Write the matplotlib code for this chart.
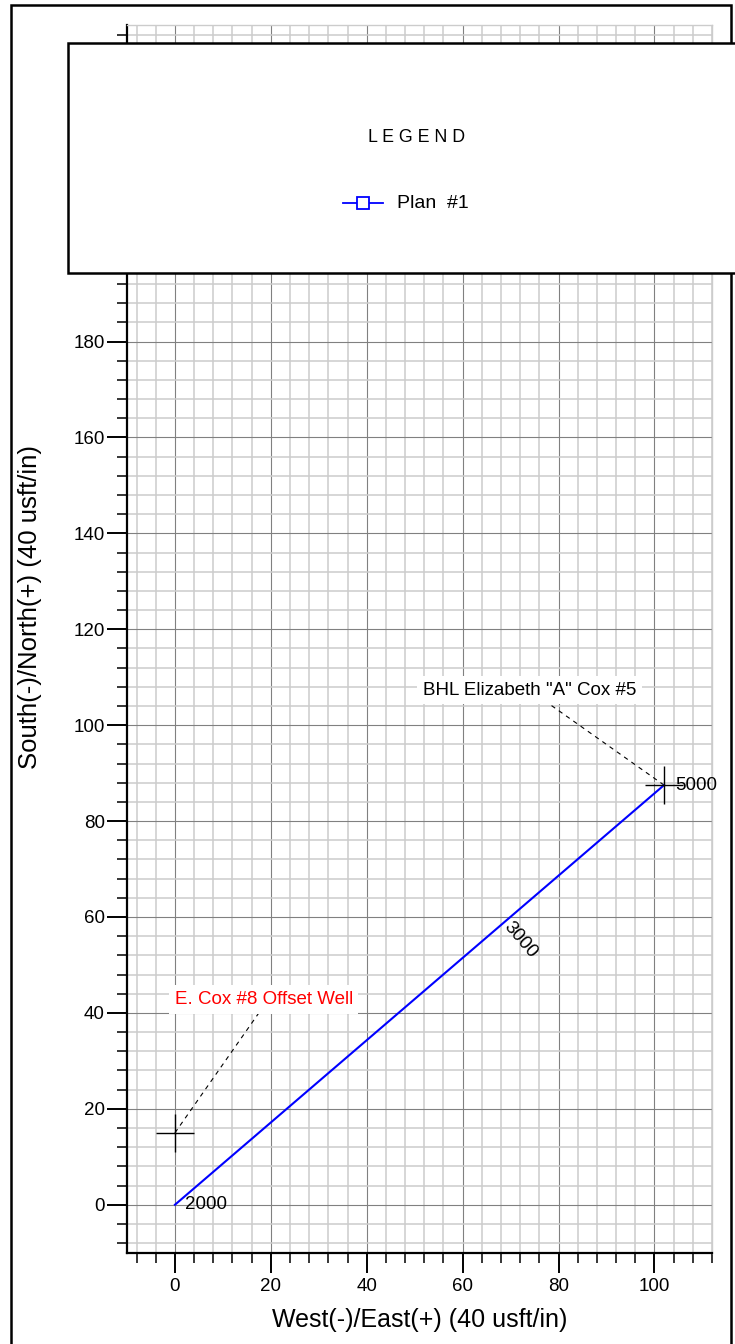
import matplotlib
matplotlib.use("Agg")
import matplotlib.pyplot as plt
from matplotlib.ticker import MultipleLocator
from matplotlib.patches import Rectangle
from matplotlib.lines import Line2D

plt.rcParams['font.family'] = ['Liberation Sans', 'DejaVu Sans']

# ---- data ----
plan_east = [0, 102]
plan_north = [0, 87.5]
md_labels = ["2000", "3000", "5000"]
md_east = [0, 70, 102]
md_north = [0, 60, 87.5]
target_names = ["E. Cox #8 Offset Well", 'BHL Elizabeth "A" Cox #5']
target_east = [0, 102]
target_north = [15, 87.5]
label_east = [17.5, 77.8]
label_north = [40, 104.6]
label_text_east = [18.5, 74]
label_text_north = [42.8, 107.3]
label_colors = ["red", "black"]
legend_name = "Plan  #1"

FS = 13.5

fig = plt.figure(figsize=(7.35, 13.44), dpi=100)
ax = fig.add_axes([127/735, 91.3/1344, 585/735, 1228.2/1344])
ax.set_xlim(-10, 112)
ax.set_ylim(-10, 246.1)

ax.xaxis.set_major_locator(MultipleLocator(20))
ax.yaxis.set_major_locator(MultipleLocator(20))
ax.xaxis.set_minor_locator(MultipleLocator(4))
ax.yaxis.set_minor_locator(MultipleLocator(4))
ax.grid(which='minor', color='#cccccc', lw=1.1)
ax.grid(which='major', color='#808080', lw=0.8)
ax.set_axisbelow(True)

for s in ['top', 'right']:
    ax.spines[s].set_color('#cccccc')
    ax.spines[s].set_linewidth(1.0)
for s in ['left', 'bottom']:
    ax.spines[s].set_linewidth(1.6)

ax.tick_params(which='major', length=14.4, width=1.4, labelsize=FS, direction='out')
ax.tick_params(which='minor', length=7.2, width=1.1, direction='out')
ax.tick_params(axis='x', which='major', pad=4)
ax.tick_params(axis='y', which='major', pad=1.5)
ax.tick_params(top=False, right=False, which='both')

ax.set_xlabel("West(-)/East(+) (40 usft/in)", fontsize=18)
ax.set_ylabel("South(-)/North(+) (40 usft/in)", fontsize=18.5)
ax.xaxis.set_label_coords(0.5, -(1320 - 1252.7) / 1228.2)
ax.yaxis.set_label_coords((30.5 - 127) / 585, (1252.7 - 607) / 1228.2)
ax.xaxis.label.set_va('center')
ax.yaxis.label.set_va('center')

# plan line
ax.plot(plan_east, plan_north, color='#0000ff', lw=1.5, zorder=5)

# MD labels
ax.annotate(md_labels[0], (md_east[0], md_north[0]), xytext=(7, 0),
            textcoords='offset points', fontsize=FS, va='center', ha='left', zorder=6)
ax.annotate(md_labels[1], (md_east[1], md_north[1]), xytext=(2, -1),
            textcoords='offset points', fontsize=FS, va='top', ha='left',
            rotation=-49.4, rotation_mode='anchor', zorder=6)
ax.annotate(md_labels[2], (md_east[2], md_north[2]), xytext=(8, 0),
            textcoords='offset points', fontsize=FS, va='center', ha='left', zorder=6)

# targets
for i in range(2):
    ax.plot([target_east[i], label_east[i]], [target_north[i], label_north[i]],
            color='black', lw=0.8, ls=(0, (4, 4)), zorder=4)
    ax.plot(target_east[i], target_north[i], marker='+', ms=27, mew=1.0,
            color='black', zorder=6)
    ax.text(label_text_east[i], label_text_north[i], target_names[i],
            color=label_colors[i], fontsize=FS, ha='center', va='center', zorder=7,
            bbox=dict(facecolor='white', edgecolor='none', pad=4))

# outer frame
fig.add_artist(Rectangle((10.5/735, -0.01), (731 - 10.5)/735, 1.01 - 5.3/1344,
                         transform=fig.transFigure, fill=False, ec='black',
                         lw=1.8, zorder=0.5, clip_on=False))

# legend box
fig.add_artist(Rectangle((68.3/735, 1 - 272.7/1344), 0.95, (272.7 - 43.5)/1344,
                         transform=fig.transFigure, fc='white', ec='black',
                         lw=1.8, zorder=10, clip_on=False))
fig.text(417/735, 1 - 138/1344, "L E G E N D", fontsize=12.8, ha='center',
         va='center', zorder=11)
fig.add_artist(Line2D([343/735, 383/735], [1 - 203/1344, 1 - 203/1344],
                      transform=fig.transFigure, color='#0000ff', lw=1.3, zorder=11))
fig.add_artist(Line2D([362.5/735], [1 - 203/1344], transform=fig.transFigure,
                      marker='s', ms=9, mfc='white', mec='#0000ff', mew=1.3,
                      ls='none', zorder=12))
fig.text(397/735, 1 - 203/1344, legend_name, fontsize=14, ha='left', va='center',
         zorder=11)

fig.savefig("out.png", dpi=100)
